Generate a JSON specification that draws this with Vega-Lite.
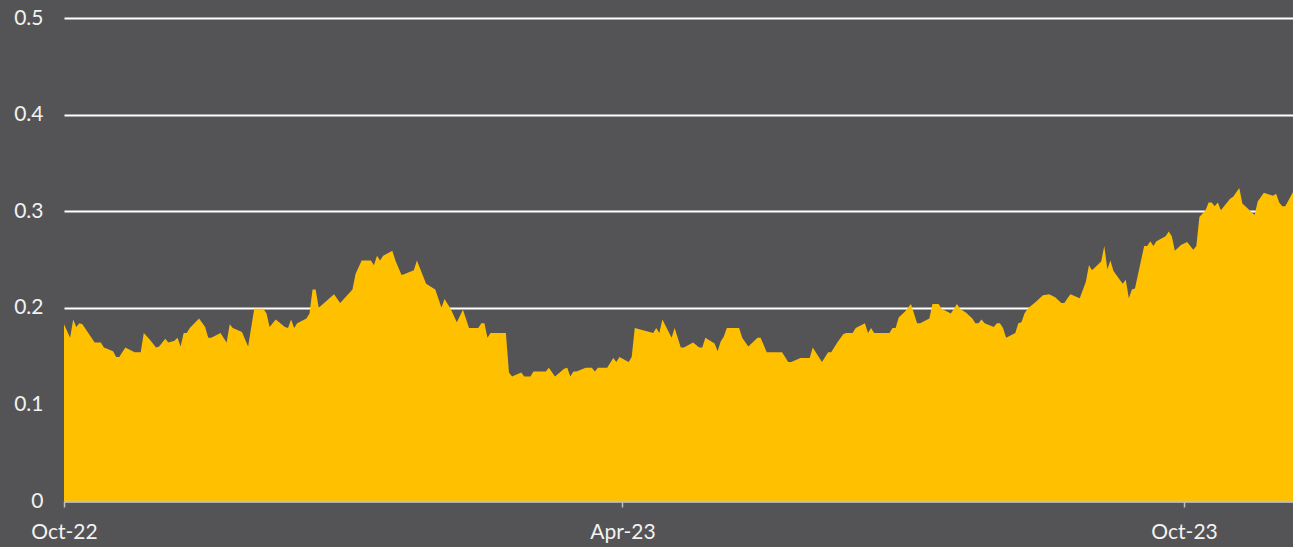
{
"$schema": "https://vega.github.io/schema/vega-lite/v6.json",
"width": 1229, "height": 483,
"autosize": {"type": "none"},
"padding": {"left": 64, "top": 18, "right": 0, "bottom": 46},
"background": "#545457",
"config": {"view": {"stroke": null}, "font": "Lato"},
"data": {"values": [
{"d":"2022-10-01","v":0.183},{"d":"2022-10-03","v":0.169},{"d":"2022-10-04","v":0.188},{"d":"2022-10-05","v":0.180},{"d":"2022-10-06","v":0.184},{"d":"2022-10-07","v":0.183},{"d":"2022-10-11","v":0.164},{"d":"2022-10-13","v":0.164},{"d":"2022-10-14","v":0.159},{"d":"2022-10-17","v":0.155},{"d":"2022-10-18","v":0.149},{"d":"2022-10-19","v":0.149},{"d":"2022-10-21","v":0.159},{"d":"2022-10-24","v":0.154},{"d":"2022-10-26","v":0.154},{"d":"2022-10-27","v":0.174},{"d":"2022-10-29","v":0.167},{"d":"2022-10-31","v":0.159},
{"d":"2022-11-01","v":0.160},{"d":"2022-11-03","v":0.168},{"d":"2022-11-04","v":0.164},{"d":"2022-11-06","v":0.166},{"d":"2022-11-07","v":0.169},{"d":"2022-11-08","v":0.160},{"d":"2022-11-09","v":0.174},{"d":"2022-11-10","v":0.174},{"d":"2022-11-11","v":0.179},{"d":"2022-11-14","v":0.189},{"d":"2022-11-16","v":0.180},{"d":"2022-11-17","v":0.169},{"d":"2022-11-18","v":0.169},{"d":"2022-11-21","v":0.174},{"d":"2022-11-23","v":0.164},{"d":"2022-11-24","v":0.183},{"d":"2022-11-25","v":0.179},{"d":"2022-11-28","v":0.175},{"d":"2022-11-30","v":0.160},
{"d":"2022-12-02","v":0.199},{"d":"2022-12-05","v":0.199},{"d":"2022-12-06","v":0.194},{"d":"2022-12-07","v":0.180},{"d":"2022-12-09","v":0.188},{"d":"2022-12-12","v":0.180},{"d":"2022-12-13","v":0.179},{"d":"2022-12-14","v":0.188},{"d":"2022-12-15","v":0.179},{"d":"2022-12-16","v":0.184},{"d":"2022-12-19","v":0.189},{"d":"2022-12-20","v":0.194},{"d":"2022-12-21","v":0.219},{"d":"2022-12-22","v":0.219},{"d":"2022-12-23","v":0.200},{"d":"2022-12-28","v":0.214},{"d":"2022-12-30","v":0.205},
{"d":"2023-01-03","v":0.219},{"d":"2023-01-04","v":0.235},{"d":"2023-01-06","v":0.249},{"d":"2023-01-09","v":0.249},{"d":"2023-01-10","v":0.244},{"d":"2023-01-11","v":0.254},{"d":"2023-01-12","v":0.249},{"d":"2023-01-13","v":0.254},{"d":"2023-01-16","v":0.259},{"d":"2023-01-17","v":0.249},{"d":"2023-01-19","v":0.234},{"d":"2023-01-20","v":0.235},{"d":"2023-01-23","v":0.239},{"d":"2023-01-24","v":0.249},{"d":"2023-01-27","v":0.225},{"d":"2023-01-30","v":0.219},
{"d":"2023-02-01","v":0.200},{"d":"2023-02-02","v":0.209},{"d":"2023-02-04","v":0.199},{"d":"2023-02-06","v":0.185},{"d":"2023-02-08","v":0.198},{"d":"2023-02-10","v":0.179},{"d":"2023-02-13","v":0.179},{"d":"2023-02-14","v":0.184},{"d":"2023-02-15","v":0.184},{"d":"2023-02-16","v":0.169},{"d":"2023-02-17","v":0.174},{"d":"2023-02-22","v":0.174},{"d":"2023-02-23","v":0.133},{"d":"2023-02-24","v":0.129},{"d":"2023-02-27","v":0.133},{"d":"2023-02-28","v":0.129},
{"d":"2023-03-02","v":0.129},{"d":"2023-03-03","v":0.134},{"d":"2023-03-07","v":0.134},{"d":"2023-03-08","v":0.138},{"d":"2023-03-10","v":0.129},{"d":"2023-03-13","v":0.137},{"d":"2023-03-14","v":0.138},{"d":"2023-03-15","v":0.129},{"d":"2023-03-16","v":0.134},{"d":"2023-03-17","v":0.134},{"d":"2023-03-20","v":0.138},{"d":"2023-03-22","v":0.138},{"d":"2023-03-23","v":0.134},{"d":"2023-03-24","v":0.138},{"d":"2023-03-27","v":0.138},{"d":"2023-03-29","v":0.148},{"d":"2023-03-30","v":0.144},{"d":"2023-03-31","v":0.149},
{"d":"2023-04-03","v":0.144},{"d":"2023-04-04","v":0.149},{"d":"2023-04-05","v":0.179},{"d":"2023-04-11","v":0.174},{"d":"2023-04-12","v":0.179},{"d":"2023-04-13","v":0.174},{"d":"2023-04-14","v":0.188},{"d":"2023-04-17","v":0.169},{"d":"2023-04-18","v":0.179},{"d":"2023-04-20","v":0.159},{"d":"2023-04-21","v":0.159},{"d":"2023-04-24","v":0.164},{"d":"2023-04-26","v":0.159},{"d":"2023-04-27","v":0.159},{"d":"2023-04-28","v":0.169},
{"d":"2023-05-01","v":0.163},{"d":"2023-05-02","v":0.155},{"d":"2023-05-03","v":0.165},{"d":"2023-05-04","v":0.170},{"d":"2023-05-05","v":0.179},{"d":"2023-05-09","v":0.179},{"d":"2023-05-10","v":0.169},{"d":"2023-05-12","v":0.160},{"d":"2023-05-15","v":0.169},{"d":"2023-05-16","v":0.169},{"d":"2023-05-18","v":0.154},{"d":"2023-05-23","v":0.154},{"d":"2023-05-25","v":0.144},{"d":"2023-05-26","v":0.144},{"d":"2023-05-29","v":0.148},
{"d":"2023-06-01","v":0.148},{"d":"2023-06-02","v":0.159},{"d":"2023-06-05","v":0.144},{"d":"2023-06-07","v":0.154},{"d":"2023-06-08","v":0.154},{"d":"2023-06-10","v":0.164},{"d":"2023-06-12","v":0.173},{"d":"2023-06-13","v":0.174},{"d":"2023-06-15","v":0.174},{"d":"2023-06-16","v":0.179},{"d":"2023-06-19","v":0.184},{"d":"2023-06-20","v":0.174},{"d":"2023-06-21","v":0.179},{"d":"2023-06-22","v":0.174},{"d":"2023-06-27","v":0.174},{"d":"2023-06-28","v":0.179},{"d":"2023-06-29","v":0.179},{"d":"2023-06-30","v":0.190},
{"d":"2023-07-02","v":0.196},{"d":"2023-07-04","v":0.204},{"d":"2023-07-06","v":0.184},{"d":"2023-07-07","v":0.184},{"d":"2023-07-10","v":0.189},{"d":"2023-07-11","v":0.204},{"d":"2023-07-13","v":0.204},{"d":"2023-07-14","v":0.199},{"d":"2023-07-17","v":0.194},{"d":"2023-07-19","v":0.204},{"d":"2023-07-20","v":0.199},{"d":"2023-07-22","v":0.195},{"d":"2023-07-24","v":0.189},{"d":"2023-07-25","v":0.184},{"d":"2023-07-26","v":0.184},{"d":"2023-07-27","v":0.188},{"d":"2023-07-28","v":0.184},{"d":"2023-07-31","v":0.180},
{"d":"2023-08-01","v":0.184},{"d":"2023-08-02","v":0.184},{"d":"2023-08-03","v":0.179},{"d":"2023-08-04","v":0.169},{"d":"2023-08-07","v":0.174},{"d":"2023-08-08","v":0.184},{"d":"2023-08-09","v":0.185},{"d":"2023-08-10","v":0.194},{"d":"2023-08-11","v":0.199},{"d":"2023-08-14","v":0.207},{"d":"2023-08-16","v":0.213},{"d":"2023-08-18","v":0.214},{"d":"2023-08-20","v":0.211},{"d":"2023-08-22","v":0.205},{"d":"2023-08-23","v":0.205},{"d":"2023-08-24","v":0.210},{"d":"2023-08-25","v":0.214},{"d":"2023-08-28","v":0.210},{"d":"2023-08-30","v":0.227},{"d":"2023-08-31","v":0.244},
{"d":"2023-09-01","v":0.239},{"d":"2023-09-04","v":0.248},{"d":"2023-09-05","v":0.264},{"d":"2023-09-06","v":0.240},{"d":"2023-09-07","v":0.249},{"d":"2023-09-08","v":0.238},{"d":"2023-09-11","v":0.225},{"d":"2023-09-12","v":0.229},{"d":"2023-09-13","v":0.210},{"d":"2023-09-14","v":0.219},{"d":"2023-09-15","v":0.220},{"d":"2023-09-18","v":0.264},{"d":"2023-09-19","v":0.264},{"d":"2023-09-20","v":0.269},{"d":"2023-09-21","v":0.264},{"d":"2023-09-22","v":0.269},{"d":"2023-09-25","v":0.274},{"d":"2023-09-26","v":0.279},{"d":"2023-09-27","v":0.274},{"d":"2023-09-28","v":0.259},{"d":"2023-09-30","v":0.265},
{"d":"2023-10-02","v":0.268},{"d":"2023-10-04","v":0.260},{"d":"2023-10-05","v":0.264},{"d":"2023-10-06","v":0.294},{"d":"2023-10-08","v":0.301},{"d":"2023-10-09","v":0.309},{"d":"2023-10-10","v":0.309},{"d":"2023-10-11","v":0.305},{"d":"2023-10-12","v":0.309},{"d":"2023-10-13","v":0.301},{"d":"2023-10-16","v":0.313},{"d":"2023-10-17","v":0.315},{"d":"2023-10-19","v":0.324},{"d":"2023-10-20","v":0.308},{"d":"2023-10-22","v":0.302},{"d":"2023-10-24","v":0.296},{"d":"2023-10-25","v":0.310},{"d":"2023-10-27","v":0.319},{"d":"2023-10-30","v":0.316},{"d":"2023-10-31","v":0.318},
{"d":"2023-11-01","v":0.309},{"d":"2023-11-02","v":0.305},{"d":"2023-11-03","v":0.305},{"d":"2023-11-06","v":0.323}
]},
"mark": {"type": "area", "color": "#FFC000", "clip": true, "interpolate": "linear"},
"encoding": {
  "x": {"field": "d", "type": "temporal",
    "scale": {"type": "utc", "domain": [{"year": 2022, "month": 10, "date": 1, "utc": true}, {"year": 2023, "month": 11, "date": 5, "hours": 12, "utc": true}]},
    "axis": {"values": [{"year": 2022, "month": 10, "date": 1, "utc": true}, {"year": 2023, "month": 4, "date": 1, "utc": true}, {"year": 2023, "month": 10, "date": 1, "utc": true}],
      "format": "%b-%y", "title": null, "grid": false, "domainColor": "#bfbfbf", "domainWidth": 1.5, "tickColor": "#bfbfbf", "tickWidth": 1.5, "tickSize": 6,
      "labelColor": "#f2f2f2", "labelFontSize": 21, "labelPadding": 14, "labelFlush": false, "labelOverlap": false, "zindex": 1}},
  "y": {"field": "v", "type": "quantitative",
    "scale": {"domain": [0, 0.5], "nice": false, "zero": true},
    "axis": {"values": [0, 0.1, 0.2, 0.3, 0.4, 0.5], "format": ".1~f", "title": null, "domain": false, "ticks": false,
      "grid": true, "gridColor": "#ffffff", "gridWidth": 2, "gridOpacity": 1,
      "labelColor": "#f2f2f2", "labelFontSize": 21, "labelPadding": 21, "zindex": 0}}
}
}
